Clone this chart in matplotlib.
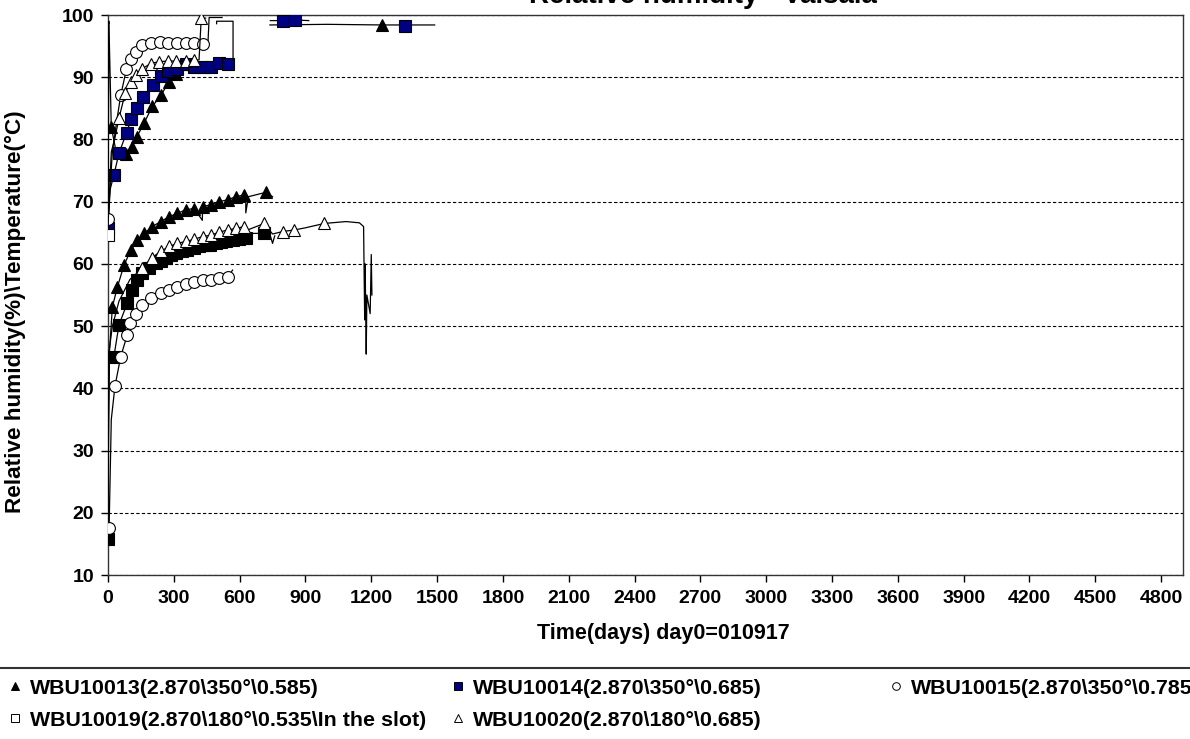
import matplotlib
matplotlib.use('Agg')
import matplotlib.pyplot as plt
from matplotlib.lines import Line2D

plt.rcParams['font.family'] = ['Liberation Sans', 'DejaVu Sans']
plt.rcParams['font.weight'] = 'bold'

# ---- relative humidity curves ----
rh13_x = [0, 4, 15, 40, 81, 108, 131, 164, 202, 241, 279, 312, 357, 393, 430]
rh13_y = [66, 99, 82, 77.5, 77.7, 78.8, 80.4, 82.6, 85.3, 87.1, 89.3, 90.5, 92.2, 92.0, 92.0]
rh13_m = [2, 4, 5, 6, 7, 8, 9, 10, 11, 12, 13]
rh13b_x = [738, 1000, 1249, 1489]
rh13b_y = [98.4, 98.5, 98.4, 98.4]
rh13b_m = [2]

rh14_x = [0, 10, 27, 50, 85, 106, 134, 161, 205, 240, 275, 313, 354, 393, 431, 469, 507, 549, 570, 570, 495, 495]
rh14_y = [65.8, 72, 74.3, 77.8, 81.1, 83.3, 85.0, 86.9, 88.75, 90.2, 91.05, 91.4, 92.1, 91.7, 91.7, 91.7, 92.3, 92.1, 92.0, 99.0, 99.0, 98.6]
rh14_m = [0, 2, 3, 4, 5, 6, 7, 8, 9, 10, 11, 12, 13, 14, 15, 16, 17]
rh14b_x = [740, 796, 854, 915]
rh14b_y = [99.1, 99.1, 99.2, 99.1]
rh14b_m = [1, 2]
rh14c_x = [1356]
rh14c_y = [98.3]

rh15_x = [0, 20, 40, 58, 84, 103, 126, 157, 195, 236, 275, 316, 354, 393, 435, 455, 461, 520]
rh15_y = [67.2, 78, 83, 87.1, 91.3, 93.0, 94.1, 95.2, 95.45, 95.6, 95.45, 95.45, 95.45, 95.45, 95.3, 95.0, 99.6, 99.6]
rh15_m = [0, 3, 4, 5, 6, 7, 8, 9, 10, 11, 12, 13, 14]

rh19_x = [0, 3, 5]
rh19_y = [64.6, 99, 98.7]
rh19_m = [0]

rh20_x = [0, 15, 30, 50, 78, 103, 126, 157, 195, 233, 274, 312, 354, 393, 415, 425, 445]
rh20_y = [66, 78, 80, 83.4, 87.4, 89.3, 90.4, 91.4, 92.2, 92.5, 92.6, 92.6, 92.6, 92.7, 92.8, 99.5, 99.5]
rh20_m = [3, 4, 5, 6, 7, 8, 9, 10, 11, 12, 13, 15]

# ---- temperature curves ----
t13_x = [0, 5, 20, 43, 73, 104, 134, 164, 202, 240, 279, 316, 354, 393, 430, 431, 468, 507,
         545, 583, 621, 628, 628, 640, 720, 750]
t13_y = [24, 45, 53.1, 56.3, 59.8, 62.2, 63.8, 64.9, 66.0, 66.8, 67.6, 68.1, 68.7, 68.9, 67.0, 69.2, 69.5, 70.0,
         70.3, 70.8, 71.1, 71.0, 68.2, 70.8, 71.5, 70.8]
t13_m = [2, 3, 4, 5, 6, 7, 8, 9, 10, 11, 12, 13, 15, 16, 17, 18, 19, 20, 24]

tsq_x = [0, 3, 6, 27, 50, 88, 111, 134, 157, 187, 218, 240, 263, 285, 310, 339, 360, 390, 415, 440,
         465, 492, 515, 540, 568, 595, 628, 640, 712, 740, 750, 760]
tsq_y = [15.8, 35, 45, 45.1, 50.2, 53.7, 55.8, 57.4, 58.5, 59.3, 60.1, 60.5, 60.9, 61.4, 61.7, 62.0, 62.3, 62.6, 62.8, 63.0,
         63.1, 63.3, 63.5, 63.6, 63.8, 64.0, 64.1, 64.9, 64.9, 64.5, 63.3, 64.5]
tsq_m = [0, 3, 4, 5, 6, 7, 8, 9, 10, 11, 12, 13, 14, 15, 16, 17, 18, 19, 20, 21, 22, 23, 24, 25, 26, 28]

t15_x = [5, 15, 32, 58, 88, 99, 126, 157, 195, 240, 279, 316, 354, 393, 431, 468, 507, 545, 568]
t15_y = [17.5, 35, 40.4, 45.1, 48.6, 50.45, 52.0, 53.4, 54.5, 55.3, 55.8, 56.3, 56.8, 57.1, 57.4, 57.4, 57.7, 57.9, 59.0]
t15_m = [0, 2, 3, 4, 5, 6, 7, 8, 9, 10, 11, 12, 13, 14, 15, 16, 17]

t20_x = [0, 5, 20, 50, 100, 156, 200, 240, 279, 316, 354, 393, 431, 468, 507, 545, 583, 621, 640, 712,
         750, 796, 849, 900, 986, 1085, 1146, 1165, 1170, 1172, 1175, 1177, 1180, 1195, 1200, 1203]
t20_y = [33, 46, 50, 54, 57.5, 59.3, 61.0, 62.0, 62.8, 63.3, 63.6, 63.95, 64.4, 64.6, 65.1, 65.45, 65.7, 66.0, 65.5, 66.5,
         64.8, 65.2, 65.45, 65.8, 66.5, 66.8, 66.6, 66.0, 51, 60, 52, 45.5, 55, 52, 61.5, 55]
t20_m = [5, 6, 7, 8, 9, 10, 11, 12, 13, 14, 15, 16, 17, 19, 21, 22, 24]

x_ticks = list(range(0, 4801, 300))
y_ticks = list(range(10, 101, 10))

labels = ['WBU10013(2.870\\350°\\0.585)',
          'WBU10014(2.870\\350°\\0.685)',
          'WBU10015(2.870\\350°\\0.785)',
          'WBU10019(2.870\\180°\\0.535\\In the slot)',
          'WBU10020(2.870\\180°\\0.685)']

NAVY = '#000080'
sty = {
    'tri': dict(marker='^', mfc='black'),
    'sq': dict(marker='s', mfc=NAVY),
    'circ': dict(marker='o', mfc='white'),
    'osq': dict(marker='s', mfc='white'),
    'otri': dict(marker='^', mfc='white'),
    'bsq': dict(marker='s', mfc='black'),
}

fig = plt.figure(figsize=(11.9, 7.39), dpi=100)
ax = fig.add_axes([108/1190, 1 - 575/739, (1183-108)/1190, (575-15)/739])


def draw(x, y, key, marks):
    ax.plot(x, y, color='black', lw=0.9, mec='black', mew=0.8, ms=8.5,
            markevery=marks, zorder=3, **sty[key])


draw(rh13_x, rh13_y, 'tri', rh13_m)
draw(rh13b_x, rh13b_y, 'tri', rh13b_m)
draw(rh14_x, rh14_y, 'sq', rh14_m)
draw(rh14b_x, rh14b_y, 'sq', rh14b_m)
draw(rh14c_x, rh14c_y, 'sq', [0])
draw(rh15_x, rh15_y, 'circ', rh15_m)
draw(rh19_x, rh19_y, 'osq', rh19_m)
draw(rh20_x, rh20_y, 'otri', rh20_m)

draw(t13_x, t13_y, 'tri', t13_m)
draw(tsq_x, tsq_y, 'bsq', tsq_m)
draw(t15_x, t15_y, 'circ', t15_m)
draw(t20_x, t20_y, 'otri', t20_m)

ax.set_xlim(0, 4900)
ax.set_ylim(10, 100)
ax.set_xticks(x_ticks)
ax.set_yticks(y_ticks)
ax.tick_params(axis='both', direction='out', length=5, width=1, labelsize=14, pad=5)
ax.tick_params(axis='x', pad=6)
for lab in ax.get_xticklabels() + ax.get_yticklabels():
    lab.set_fontweight('bold')
for sp in ax.spines.values():
    sp.set_linewidth(1.0)
    sp.set_color('#333333')
ax.yaxis.grid(True, color='black', lw=0.8, ls=(0, (3, 2)))
ax.set_axisbelow(True)

ax.set_xlabel('Time(days) day0=010917', fontsize=15.5, fontweight='bold')
ax.xaxis.set_label_coords((663 - 108) / 1075, -(633 - 575) / 560)
ax.xaxis.label.set_va('center')
ax.set_ylabel('Relative humidity(%)\\Temperature(°C)', fontsize=16.2, fontweight='bold')
ax.yaxis.set_label_coords(-(108 - 15) / 1075, (575 - 312) / 560)
ax.yaxis.label.set_va('center')

fig.text(703/1190, 1 - 3/739, 'Relative humidity - Vaisala', ha='center', va='baseline',
         fontsize=20, fontweight='bold')

# legend frame top edge
fig.add_artist(Line2D([0, 1], [1 - 668/739, 1 - 668/739], transform=fig.transFigure,
                      color='#333333', lw=1.5))

leg_keys = ['tri', 'sq', 'circ', 'osq', 'otri']
leg_pos = [(6, 688), (449, 688), (887, 688), (6, 720), (449, 720)]
for key, lab, (px, py) in zip(leg_keys, labels, leg_pos):
    h = Line2D([], [], ls='none', mec='black', mew=0.7, ms=5.5, **sty[key])
    fig.legend(handles=[h], labels=[lab], loc='center left',
               bbox_to_anchor=(px/1190, 1 - py/739), frameon=False,
               handlelength=0.8, handletextpad=0.3, borderpad=0, borderaxespad=0,
               prop={'size': 15.4, 'weight': 'bold'})

fig.savefig('out.png', dpi=100)
